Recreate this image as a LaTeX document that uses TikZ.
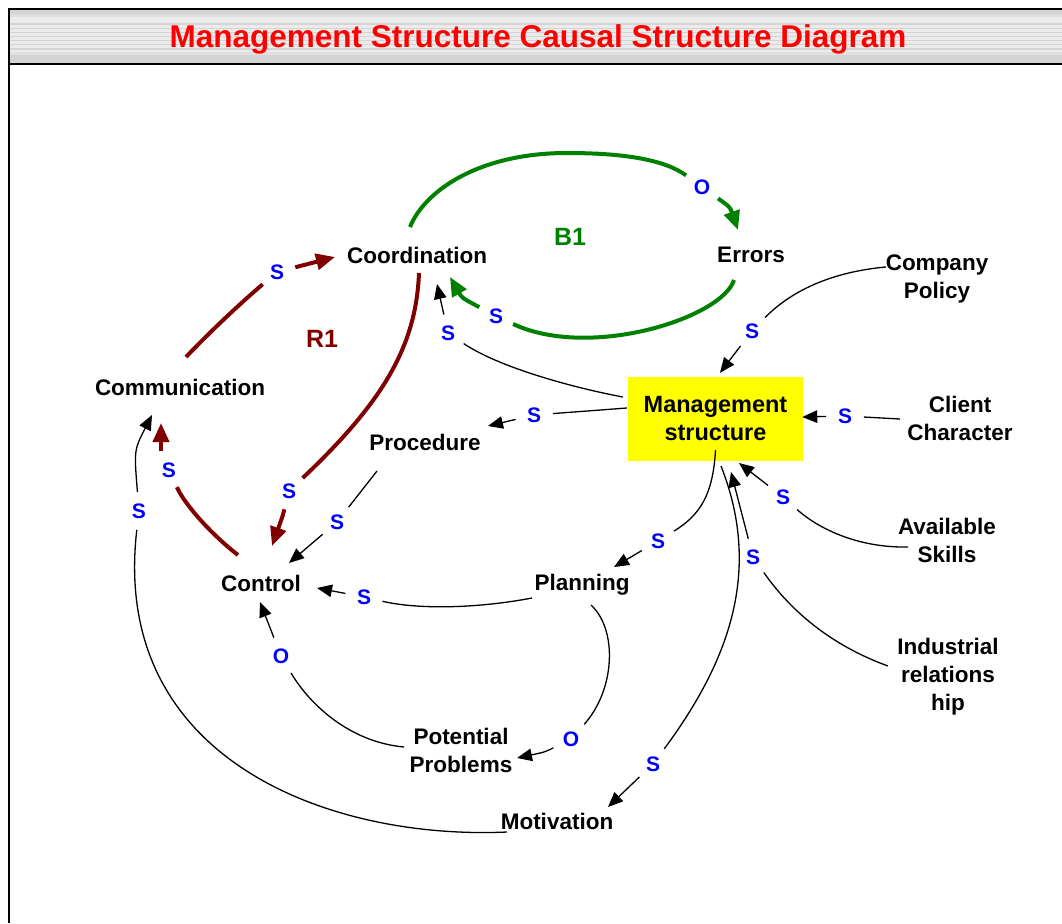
\documentclass[tikz,border=0pt]{standalone}
\usepackage{fontspec}
\setmainfont{Liberation Sans}
\usetikzlibrary{arrows.meta,calc}
\definecolor{loopred}{HTML}{800000}
\definecolor{loopgreen}{HTML}{008000}
\definecolor{signblue}{HTML}{0000FF}
\definecolor{boxyellow}{HTML}{FFFF00}
\definecolor{titlered}{HTML}{FF0000}

\begin{document}
\begin{tikzpicture}[x=1pt,y=-1pt,
  var/.style={font=\bfseries\fontsize{22.5}{28}\selectfont, align=center, inner sep=0pt},
  sign/.style={circle, inner sep=6pt, text=signblue, font=\bfseries\fontsize{21}{24}\selectfont},
  looplabel/.style={font=\bfseries\fontsize{25}{30}\selectfont},
  link/.style={line width=1.3pt, black},
  linkarrow/.style={link, -{Triangle[length=15pt,width=12.5pt]}},
  rloop/.style={line width=4pt, loopred},
  rarrow/.style={rloop, -{Triangle[length=19pt,width=16pt]}},
  bloop/.style={line width=4pt, loopgreen},
  barrow/.style={bloop, -{Triangle[length=19pt,width=16pt]}},
]
% page
\fill[white] (0,0) rectangle (1062,923);
\useasboundingbox (0,0) rectangle (1062,923);

% striped title bar
\fill[black!8] (9,10) rectangle (1062,64);
\fill[black!17] (9,10) rectangle (1062,14);
\fill[black!12] (9,14) rectangle (1062,17);
\fill[black!12] (9,52) rectangle (1062,55);
\fill[black!17] (9,55) rectangle (1062,63);
\foreach \yy in {24,28.5,32.5,36.5,40.5,44.5,49}
  \draw[black!17, line width=1.2pt] (9,\yy) -- (1062,\yy);
\draw[line width=2pt] (1062,9.5) -- (9,9.5) -- (9,923);
\draw[line width=2pt] (9,64) -- (1062,64);
\node[font=\bfseries\fontsize{31.5}{36}\selectfont, text=titlered] (title) at (538,39)
  {Management Structure Causal Structure Diagram};

% variables
\node[var] (coord) at (417,255) {Coordination};
\node[var] (errors) at (751,255) {Errors};
\node[var] (policy) at (937,279) {Company\\Policy};
\node[var] (comm) at (180,387) {Communication};
\node[var, font=\bfseries\fontsize{23.5}{28}\selectfont, fill=boxyellow, minimum width=175pt, minimum height=84pt] (mgmt) at (715.5,419) {Management\\structure};
\node[var] (client) at (960,418) {Client\\Character};
\node[var] (proc) at (425,442) {Procedure};
\node[var] (control) at (261,583) {Control};
\node[var] (planning) at (582,585) {Planning};
\node[var] (skills) at (947,540) {Available\\Skills};
\node[var] (industrial) at (948,677) {Industrial\\relations\\hip};
\node[var] (potprob) at (461,750) {Potential\\Problems};
\node[var] (motivation) at (557,821) {Motivation};

% loop names
\node[looplabel, text=loopgreen] (b1) at (570,237) {B1};
\node[looplabel, text=loopred] (r1) at (322,339) {R1};

% link polarities
\node[sign] (sCC) at (277,272) {S};
\node[sign] (sCO) at (289,491) {S};
\node[sign] (sCM) at (169,470) {S};
\node[sign] (oCE) at (702,187) {O};
\node[sign] (sEC) at (496,316) {S};
\node[sign] (sMC) at (448,333) {S};
\node[sign] (sMP) at (534,415) {S};
\node[sign] (sPM) at (752,331) {S};
\node[sign] (sClM) at (845,416) {S};
\node[sign] (sPC) at (337,522) {S};
\node[sign] (sPlC) at (364,597) {S};
\node[sign] (sMPl) at (658,541) {S};
\node[sign] (sSkM) at (783,497) {S};
\node[sign] (sInM) at (753,557) {S};
\node[sign] (sMMo) at (653,764) {S};
\node[sign] (oPPC) at (281,656) {O};
\node[sign] (oPlPP) at (571,739) {O};
\node[sign] (sMoC) at (139,511) {S};

% reinforcing loop R1
\draw[rloop] ($(comm)+(6,-30)$) .. controls (207,335) and (235,308) .. (sCC);
\draw[rarrow] (sCC) -- ($(coord)+(-82,2)$);
\draw[rloop] ($(coord)+(2,18)$) .. controls (416,345) and (385,400) .. (sCO);
\draw[rarrow] (sCO) .. controls (283,515) .. ($(control)+(11,-37)$);
\draw[rloop] ($(control)+(-23,-28)$) .. controls (212,535) and (185,505) .. (sCM);
\draw[rarrow] ($(sCM.north)+(-8,0)$) -- ($(comm)+(-19,36)$);

% balancing loop B1
\draw[bloop] ($(coord)+(-7,-28)$) .. controls (425,190) and (480,153) .. (567,153)
  .. controls (625,153) and (665,160) .. (oCE);
\draw[barrow] (oCE) .. controls (730,207) .. ($(errors)+(-13,-25)$);
\draw[bloop] ($(errors)+(-17,25)$) .. controls (722,318) and (590,360) .. (sEC);
\draw[barrow] (sEC) .. controls (462,298) .. ($(coord)+(33,22)$);

% other links
\draw[link] ($(mgmt.west)+(-5,-22)$) .. controls (575,388) and (500,368) .. (sMC);
\draw[linkarrow] (sMC) -- ($(coord)+(20,29)$);
\draw[link] ($(mgmt.west)+(-1,-11)$) -- (sMP);
\draw[linkarrow] (sMP) -- ($(proc)+(63,-16)$);
\draw[link] ($(policy)+(-51,-12)$) .. controls (830,272) and (790,292) .. (sPM);
\draw[linkarrow] (sPM) -- ($(mgmt.north)+(4.5,-4)$);
\draw[link] ($(client)+(-60,1)$) -- (sClM);
\draw[linkarrow] (sClM) -- ($(mgmt.east)+(-1,-2)$);
\draw[link] ($(proc)+(-48,29)$) -- (sPC);
\draw[linkarrow] (sPC) -- ($(control)+(28,-20)$);
\draw[link] ($(planning)+(-50,13)$) .. controls (480,608) and (420,610) .. (sPlC);
\draw[linkarrow] (sPlC) -- ($(control)+(56,5)$);
\draw[link] ($(mgmt)+(0,31)$) .. controls (713,495) and (700,515) .. (sMPl);
\draw[linkarrow] (sMPl) -- ($(planning)+(32,-18)$);
\draw[link] ($(mgmt)+(5.5,47)$) .. controls (762,570) and (730,660) .. (sMMo);
\draw[linkarrow] (sMMo) -- ($(motivation)+(51,-14)$);
\draw[link] ($(skills)+(-39,7)$) .. controls (860,548) and (820,530) .. (sSkM);
\draw[linkarrow] (sSkM) -- ($(mgmt)+(23.5,44)$);
\draw[link] ($(industrial)+(-60,-11)$) .. controls (830,645) and (790,610) .. (sInM);
\draw[linkarrow] (sInM) -- ($(mgmt)+(15.5,53)$);
\draw[link] ($(planning)+(9,20)$) .. controls (618,630) and (615,690) .. (oPlPP);
\draw[linkarrow] (oPlPP) .. controls (545,752) .. ($(potprob)+(56,8)$);
\draw[link] ($(potprob)+(-57,-3)$) .. controls (350,742) and (310,705) .. (oPPC);
\draw[linkarrow] (oPPC) -- ($(control)+(-1,19)$);
\draw[link] ($(motivation)+(-50,11)$) .. controls (330,840) and (110,760) .. (sMoC);
\draw[linkarrow] (sMoC) .. controls (134,450) .. ($(comm)+(-28,28)$);
\end{tikzpicture}
\end{document}
